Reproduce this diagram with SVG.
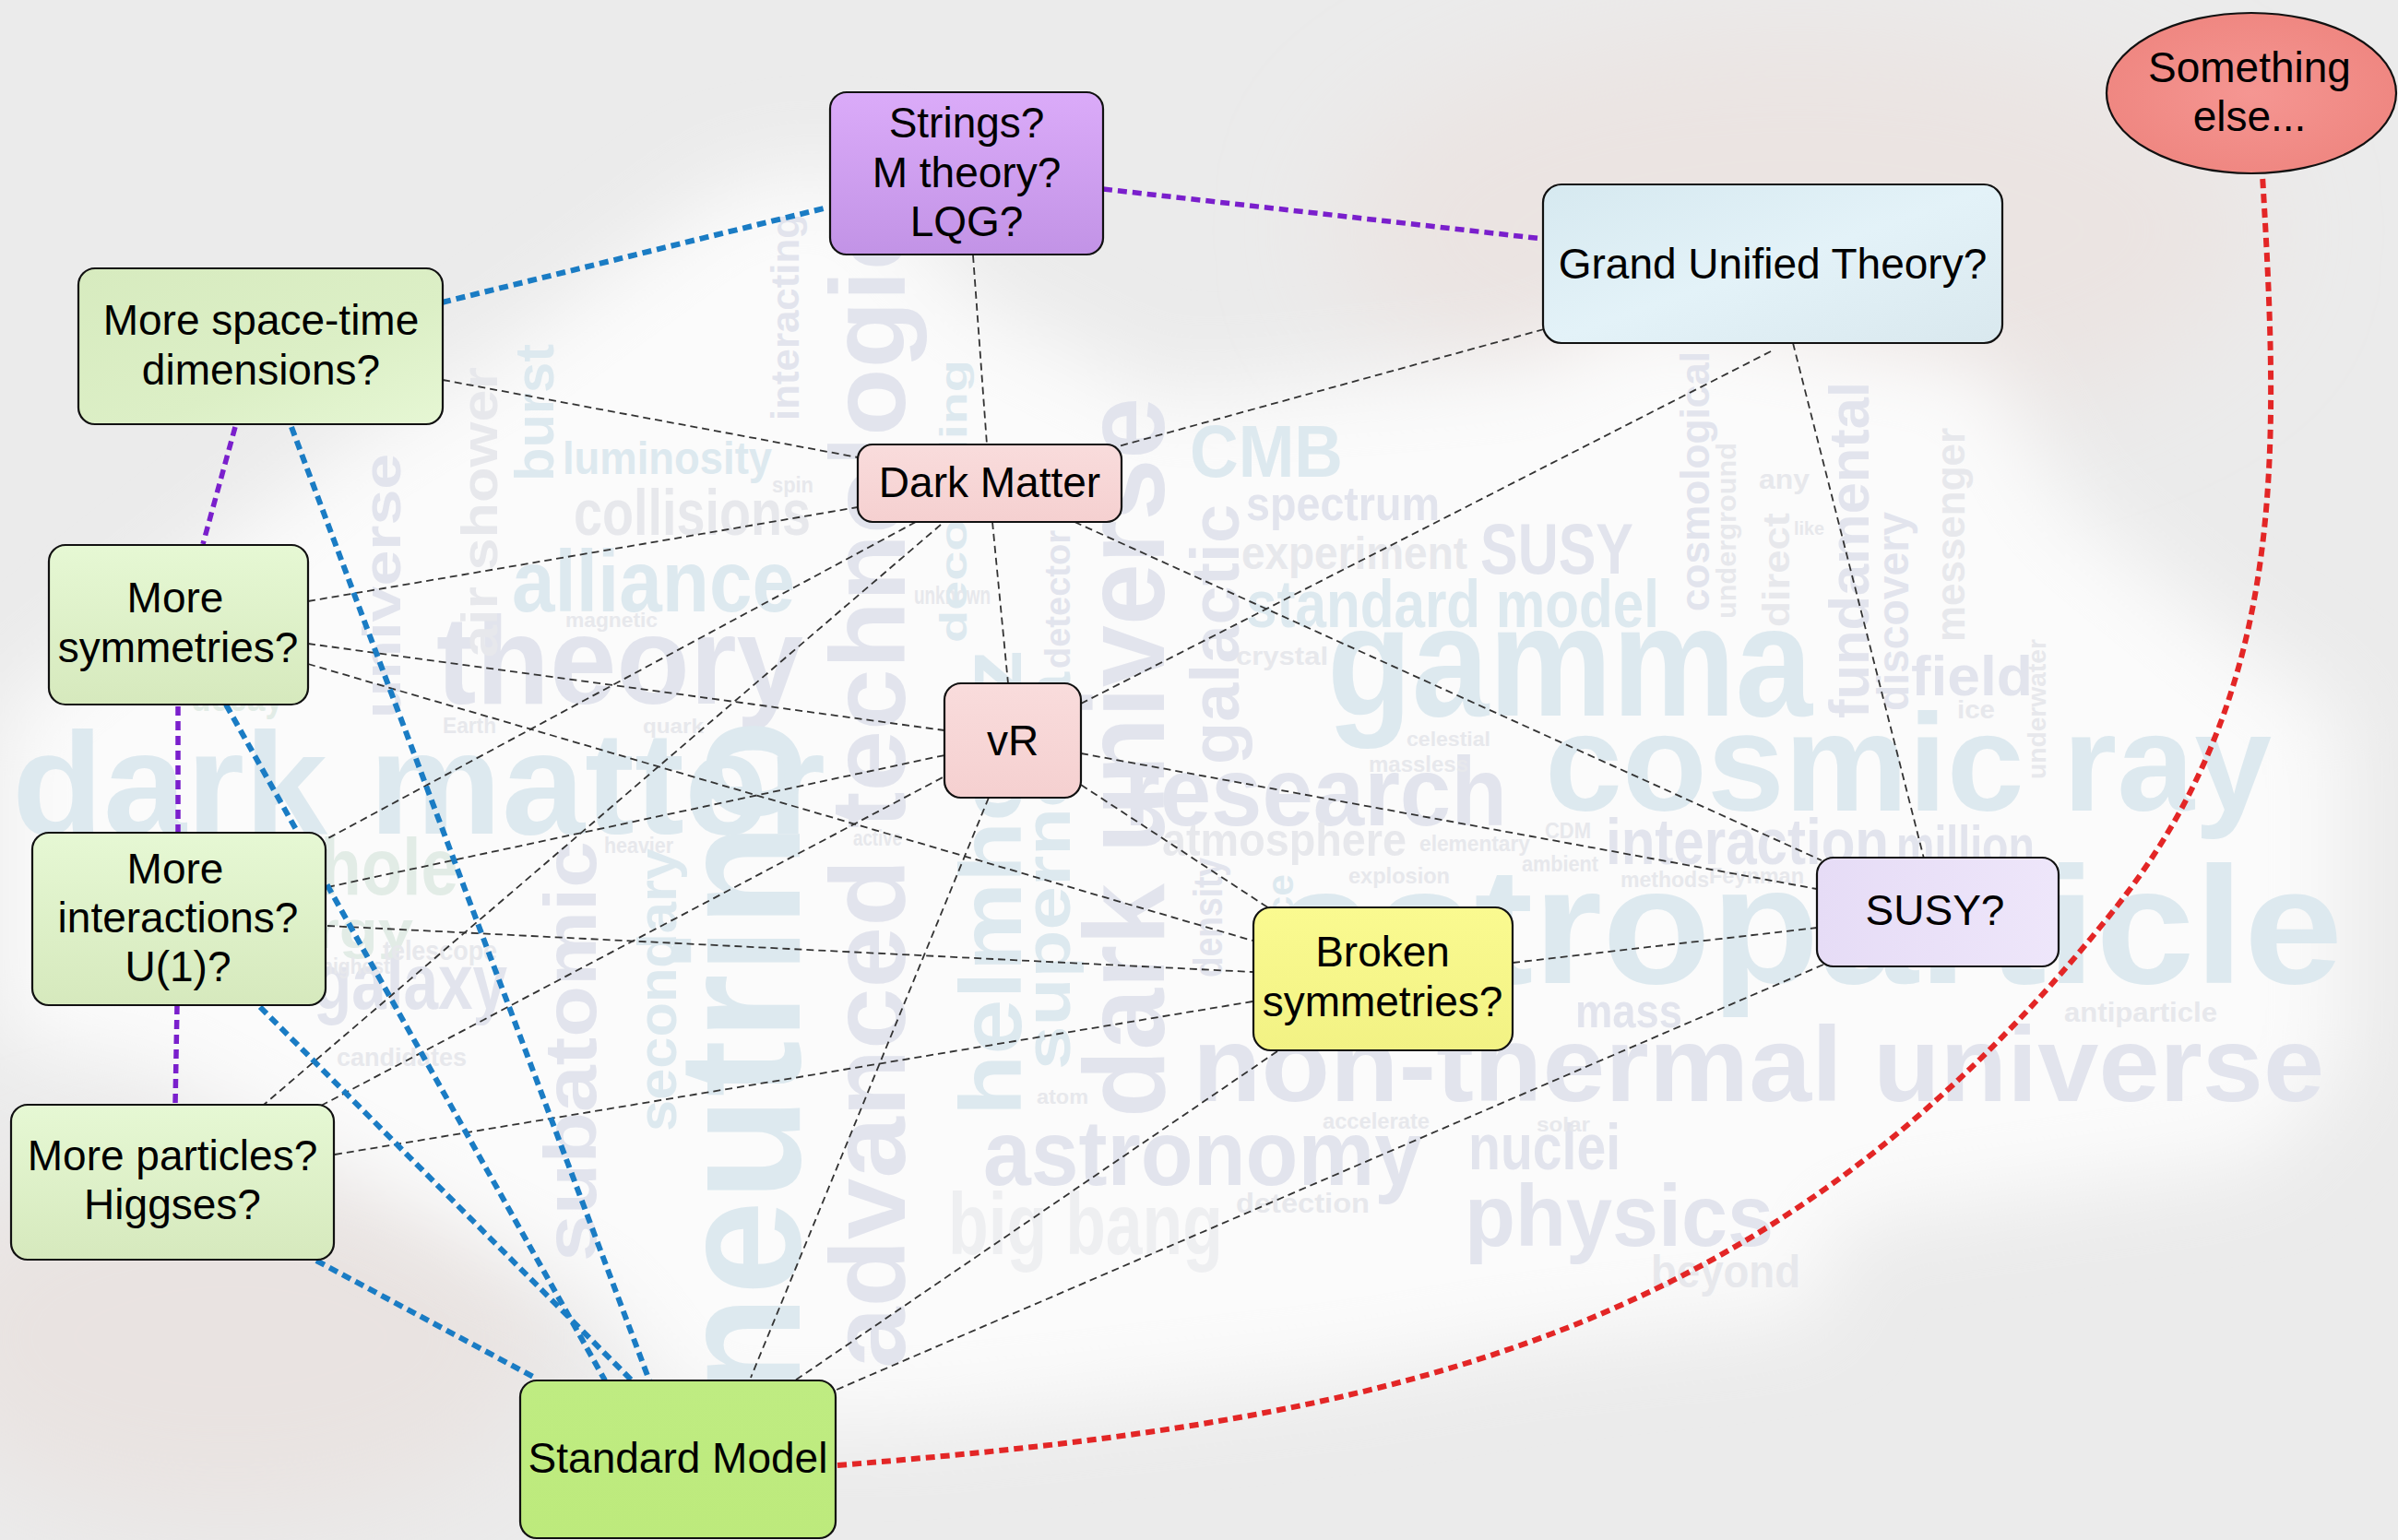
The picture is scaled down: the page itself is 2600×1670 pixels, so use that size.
<svg xmlns="http://www.w3.org/2000/svg" width="2600" height="1670" viewBox="0 0 2600 1670">
<defs>
<style>
.lbl{font-family:"Liberation Sans",Arial,sans-serif;font-size:46px;fill:#000;text-anchor:middle}
.box{stroke:#111;stroke-width:2.2}
.thin{fill:none;stroke:#333;stroke-width:1.8;stroke-dasharray:8 5}
.blue{fill:none;stroke:#1a7cc4;stroke-width:6;stroke-dasharray:10 6}
.purple{fill:none;stroke:#7a1fcc;stroke-width:5.5;stroke-dasharray:10 6}
.red{fill:none;stroke:#e32626;stroke-width:6;stroke-dasharray:10 6}
.wc{font-family:"Liberation Sans",Arial,sans-serif;font-weight:bold}
.wb{fill:#dde9ef}
.wg{fill:#e2e4ed}
.wl{fill:#e7e8ec}
.wn{fill:#e2ece6}
</style>
<filter id="blur" x="-20%" y="-20%" width="140%" height="140%"><feGaussianBlur stdDeviation="45"/></filter>
<filter id="blur2" x="-50%" y="-50%" width="200%" height="200%"><feGaussianBlur stdDeviation="60"/></filter>
<linearGradient id="gPurple" x1="0" y1="0" x2="0" y2="1"><stop offset="0" stop-color="#dbabf9"/><stop offset="1" stop-color="#c293e6"/></linearGradient>
<linearGradient id="gBlue" x1="0" y1="0" x2="1" y2="1"><stop offset="0" stop-color="#d6e9f0"/><stop offset="0.5" stop-color="#e3f2f8"/><stop offset="1" stop-color="#d9e8ee"/></linearGradient>
<radialGradient id="gRed" cx="0.5" cy="0.5" r="0.6"><stop offset="0" stop-color="#f59692"/><stop offset="1" stop-color="#ee847e"/></radialGradient>
<linearGradient id="gGreen" x1="0" y1="0" x2="1" y2="1"><stop offset="0" stop-color="#d7ebbf"/><stop offset="0.6" stop-color="#dcefc6"/><stop offset="1" stop-color="#e6f7d4"/></linearGradient>
<linearGradient id="gGreen2" x1="0" y1="0" x2="0" y2="1"><stop offset="0" stop-color="#e6f8d4"/><stop offset="1" stop-color="#d6e9bd"/></linearGradient>
<linearGradient id="gPink" x1="0" y1="0" x2="0" y2="1"><stop offset="0" stop-color="#f9dcdc"/><stop offset="1" stop-color="#f5d0d0"/></linearGradient>
<linearGradient id="gSM" x1="0" y1="0" x2="0" y2="1"><stop offset="0" stop-color="#bfec82"/><stop offset="1" stop-color="#bdea7c"/></linearGradient>
<linearGradient id="gYellow" x1="0" y1="0" x2="0" y2="1"><stop offset="0" stop-color="#fafa90"/><stop offset="1" stop-color="#f2f284"/></linearGradient>
<linearGradient id="gSusy" x1="0" y1="0" x2="1" y2="0"><stop offset="0" stop-color="#e6dcf6"/><stop offset="1" stop-color="#eee6fa"/></linearGradient>
</defs>

<g id="background">
<rect x="0" y="0" width="2600" height="1670" fill="#ebebeb"/>
<ellipse cx="1950" cy="250" rx="500" ry="220" fill="#ebe4e2" filter="url(#blur2)"/>
<ellipse cx="250" cy="1450" rx="350" ry="200" fill="#e9e3e1" filter="url(#blur2)"/>
<path d="M0,780 L380,480 L547,381 L796,199 L928,182 L1061,332 L1260,431 L1658,398 L1791,332 L2155,398 L2238,547 L2421,696 L2540,779 L2540,1160 L2454,1260 L1990,1326 L1973,1426 L1658,1459 L1459,1492 L995,1542 L746,1542 L647,1409 L415,1293 L166,1160 L0,1127 Z" fill="#fbfbfb" filter="url(#blur)"/>
</g>

<g id="wordcloud" class="wc">
<text class="wb" x="13" y="904" font-size="158" textLength="882" lengthAdjust="spacingAndGlyphs">dark matter</text>
<text class="wb" x="1675" y="879" font-size="150" textLength="788" lengthAdjust="spacingAndGlyphs">cosmic ray</text>
<text class="wb" x="1384" y="1066" font-size="180" textLength="1156" lengthAdjust="spacingAndGlyphs">astroparticle</text>
<text class="wb" x="1439" y="776" font-size="170" textLength="526" lengthAdjust="spacingAndGlyphs">gamma</text>
<text class="wg" x="1293" y="1194" font-size="115" textLength="705" lengthAdjust="spacingAndGlyphs">non-thermal</text>
<text class="wg" x="2031" y="1194" font-size="115" textLength="489" lengthAdjust="spacingAndGlyphs">universe</text>
<text class="wg" x="1066" y="1285" font-size="100" textLength="476" lengthAdjust="spacingAndGlyphs">astronomy</text>
<text class="wg" x="1588" y="1351" font-size="95" textLength="335" lengthAdjust="spacingAndGlyphs">physics</text>
<text class="wg" x="1592" y="1268" font-size="70" textLength="165" lengthAdjust="spacingAndGlyphs">nuclei</text>
<text class="wg" x="473" y="763" font-size="135" textLength="398" lengthAdjust="spacingAndGlyphs">theory</text>
<text class="wb" x="555" y="663" font-size="95" textLength="307" lengthAdjust="spacingAndGlyphs">alliance</text>
<text class="wl" x="622" y="580" font-size="70" textLength="257" lengthAdjust="spacingAndGlyphs">collisions</text>
<text class="wb" x="610" y="514" font-size="50" textLength="227" lengthAdjust="spacingAndGlyphs">luminosity</text>
<text class="wg" x="1219" y="895" font-size="105" textLength="415" lengthAdjust="spacingAndGlyphs">research</text>
<text class="wg" x="1741" y="937" font-size="70" textLength="307" lengthAdjust="spacingAndGlyphs">interaction</text>
<text class="wg" x="2056" y="937" font-size="60" textLength="150" lengthAdjust="spacingAndGlyphs">million</text>
<text class="wb" x="1351" y="680" font-size="72" textLength="448" lengthAdjust="spacingAndGlyphs">standard model</text>
<text class="wl" x="1346" y="617" font-size="50" textLength="245" lengthAdjust="spacingAndGlyphs">experiment</text>
<text class="wg" x="1605" y="622" font-size="78" textLength="166" lengthAdjust="spacingAndGlyphs">SUSY</text>
<text class="wg" x="1351" y="564" font-size="52" textLength="210" lengthAdjust="spacingAndGlyphs">spectrum</text>
<text class="wb" x="1290" y="517" font-size="80" textLength="166" lengthAdjust="spacingAndGlyphs">CMB</text>
<text class="wg" x="2072" y="754" font-size="62" textLength="132" lengthAdjust="spacingAndGlyphs">field</text>
<text class="wg" x="1708" y="1114" font-size="52" textLength="116" lengthAdjust="spacingAndGlyphs">mass</text>
<text class="wl" x="1028" y="1360" font-size="95" textLength="298" lengthAdjust="spacingAndGlyphs" opacity="0.6">big bang</text>
<text class="wl" x="1790" y="1396" font-size="50" textLength="162" lengthAdjust="spacingAndGlyphs">beyond</text>
<text class="wg" x="340" y="1094" font-size="85" textLength="210" lengthAdjust="spacingAndGlyphs">galaxy</text>
<text class="wn" x="141" y="970" font-size="88" textLength="356" lengthAdjust="spacingAndGlyphs">black hole</text>
<text class="wn" x="58" y="1028" font-size="58" textLength="390" lengthAdjust="spacingAndGlyphs">high energy</text>
<text class="wn" x="207" y="771" font-size="45" textLength="100" lengthAdjust="spacingAndGlyphs">decay</text>
<text class="wl" x="1260" y="928" font-size="50" textLength="265" lengthAdjust="spacingAndGlyphs">atmosphere</text>
<text class="wl" x="2238" y="1108" font-size="30" textLength="166" lengthAdjust="spacingAndGlyphs">antiparticle</text>
<text class="wl" x="1340" y="1315" font-size="30" textLength="145" lengthAdjust="spacingAndGlyphs">detection</text>
<text class="wl" x="1434" y="1224" font-size="24" textLength="116" lengthAdjust="spacingAndGlyphs">accelerate</text>
<text class="wl" x="1462" y="958" font-size="24" textLength="110" lengthAdjust="spacingAndGlyphs">explosion</text>
<text class="wl" x="1539" y="923" font-size="24" textLength="120" lengthAdjust="spacingAndGlyphs">elementary</text>
<text class="wl" x="1757" y="962" font-size="24" textLength="96" lengthAdjust="spacingAndGlyphs">methods</text>
<text class="wl" x="1650" y="945" font-size="24" textLength="83" lengthAdjust="spacingAndGlyphs">ambient</text>
<text class="wl" x="1853" y="958" font-size="24" textLength="103" lengthAdjust="spacingAndGlyphs">Feynman</text>
<text class="wl" x="2073" y="953" font-size="30" textLength="83" lengthAdjust="spacingAndGlyphs">space</text>
<text class="wl" x="837" y="534" font-size="24" textLength="45" lengthAdjust="spacingAndGlyphs">spin</text>
<text class="wl" x="613" y="680" font-size="22" textLength="100" lengthAdjust="spacingAndGlyphs">magnetic</text>
<text class="wl" x="991" y="655" font-size="28" textLength="83" lengthAdjust="spacingAndGlyphs">unknown</text>
<text class="wl" x="1340" y="721" font-size="28" textLength="100" lengthAdjust="spacingAndGlyphs">crystal</text>
<text class="wl" x="1525" y="809" font-size="22" textLength="91" lengthAdjust="spacingAndGlyphs">celestial</text>
<text class="wl" x="1484" y="837" font-size="24" textLength="108" lengthAdjust="spacingAndGlyphs">massless</text>
<text class="wl" x="655" y="925" font-size="24" textLength="75" lengthAdjust="spacingAndGlyphs">heavier</text>
<text class="wl" x="365" y="1156" font-size="28" textLength="141" lengthAdjust="spacingAndGlyphs">candidates</text>
<text class="wl" x="415" y="1041" font-size="30" textLength="124" lengthAdjust="spacingAndGlyphs">telescope</text>
<text class="wl" x="348" y="1056" font-size="24" textLength="75" lengthAdjust="spacingAndGlyphs">highest</text>
<text class="wl" x="1124" y="1197" font-size="22" textLength="56" lengthAdjust="spacingAndGlyphs">atom</text>
<text class="wl" x="1666" y="1227" font-size="22" textLength="58" lengthAdjust="spacingAndGlyphs">solar</text>
<text class="wl" x="2122" y="779" font-size="28" textLength="41" lengthAdjust="spacingAndGlyphs">ice</text>
<text class="wl" x="1907" y="530" font-size="30" textLength="55" lengthAdjust="spacingAndGlyphs">any</text>
<text class="wl" x="1945" y="580" font-size="20" textLength="33" lengthAdjust="spacingAndGlyphs">like</text>
<text class="wl" x="480" y="795" font-size="24" textLength="58" lengthAdjust="spacingAndGlyphs">Earth</text>
<text class="wl" x="697" y="795" font-size="22" textLength="66" lengthAdjust="spacingAndGlyphs">quark</text>
<text class="wl" x="925" y="917" font-size="24" textLength="53" lengthAdjust="spacingAndGlyphs">active</text>
<text class="wl" x="1675" y="909" font-size="24" textLength="50" lengthAdjust="spacingAndGlyphs">CDM</text>
<text class="wb" transform="translate(867,1517) rotate(-90)" font-size="190" textLength="737" lengthAdjust="spacingAndGlyphs">neutrino</text>
<text class="wg" transform="translate(981,1484) rotate(-90)" font-size="115" textLength="1324" lengthAdjust="spacingAndGlyphs">advanced technologies</text>
<text class="wg" transform="translate(1262,1212) rotate(-90)" font-size="125" textLength="781" lengthAdjust="spacingAndGlyphs">dark universe</text>
<text class="wb" transform="translate(1107,1210) rotate(-90)" font-size="95" textLength="506" lengthAdjust="spacingAndGlyphs">helmholtz</text>
<text class="wb" transform="translate(1160,1160) rotate(-90)" font-size="70" textLength="431" lengthAdjust="spacingAndGlyphs">supernova</text>
<text class="wg" transform="translate(646,1368) rotate(-90)" font-size="80" textLength="456" lengthAdjust="spacingAndGlyphs">subatomic</text>
<text class="wb" transform="translate(733,1227) rotate(-90)" font-size="60" textLength="307" lengthAdjust="spacingAndGlyphs">secondary</text>
<text class="wg" transform="translate(434,779) rotate(-90)" font-size="58" textLength="287" lengthAdjust="spacingAndGlyphs">universe</text>
<text class="wb" transform="translate(600,522) rotate(-90)" font-size="60" textLength="149" lengthAdjust="spacingAndGlyphs">burst</text>
<text class="wl" transform="translate(539,713) rotate(-90)" font-size="55" textLength="315" lengthAdjust="spacingAndGlyphs">air shower</text>
<text class="wg" transform="translate(2026,779) rotate(-90)" font-size="62" textLength="365" lengthAdjust="spacingAndGlyphs">fundamental</text>
<text class="wg" transform="translate(2069,771) rotate(-90)" font-size="48" textLength="216" lengthAdjust="spacingAndGlyphs">discovery</text>
<text class="wl" transform="translate(2130,696) rotate(-90)" font-size="44" textLength="232" lengthAdjust="spacingAndGlyphs">messenger</text>
<text class="wg" transform="translate(1853,663) rotate(-90)" font-size="44" textLength="282" lengthAdjust="spacingAndGlyphs">cosmological</text>
<text class="wl" transform="translate(1882,671) rotate(-90)" font-size="30" textLength="191" lengthAdjust="spacingAndGlyphs">underground</text>
<text class="wl" transform="translate(1940,680) rotate(-90)" font-size="40" textLength="124" lengthAdjust="spacingAndGlyphs">direct</text>
<text class="wg" transform="translate(1343,829) rotate(-90)" font-size="75" textLength="282" lengthAdjust="spacingAndGlyphs">galactic</text>
<text class="wg" transform="translate(866,456) rotate(-90)" font-size="42" textLength="224" lengthAdjust="spacingAndGlyphs">interacting</text>
<text class="wg" transform="translate(1160,725) rotate(-90)" font-size="38" textLength="150" lengthAdjust="spacingAndGlyphs">detector</text>
<text class="wb" transform="translate(1048,697) rotate(-90)" font-size="40" textLength="307" lengthAdjust="spacingAndGlyphs">decoupling</text>
<text class="wl" transform="translate(2218,845) rotate(-90)" font-size="28" textLength="152" lengthAdjust="spacingAndGlyphs">underwater</text>
<text class="wb" transform="translate(1402,1088) rotate(-90)" font-size="40" textLength="140" lengthAdjust="spacingAndGlyphs">source</text>
<text class="wg" transform="translate(1325,1060) rotate(-90)" font-size="44" textLength="130" lengthAdjust="spacingAndGlyphs">density</text>
</g>

<g id="connectors">
<line class="thin" x1="1055" y1="277" x2="1070" y2="482"/>
<line class="thin" x1="480" y1="412" x2="930" y2="496"/>
<line class="thin" x1="1674" y1="357" x2="1209" y2="485"/>
<line class="thin" x1="1920" y1="381" x2="1172" y2="763"/>
<line class="thin" x1="1944" y1="372" x2="2086" y2="931"/>
<line class="thin" x1="334" y1="652" x2="930" y2="550"/>
<line class="thin" x1="1076" y1="566" x2="1093" y2="741"/>
<line class="thin" x1="993" y1="566" x2="352" y2="911"/>
<line class="thin" x1="1020" y1="569" x2="286" y2="1198"/>
<line class="thin" x1="1165" y1="566" x2="1975" y2="933"/>
<line class="thin" x1="334" y1="698" x2="1024" y2="792"/>
<line class="thin" x1="334" y1="720" x2="1358" y2="1020"/>
<line class="thin" x1="355" y1="962" x2="1024" y2="819"/>
<line class="thin" x1="355" y1="1004" x2="1358" y2="1054"/>
<line class="thin" x1="348" y1="1199" x2="1024" y2="842"/>
<line class="thin" x1="363" y1="1252" x2="1358" y2="1086"/>
<line class="thin" x1="1172" y1="817" x2="1970" y2="964"/>
<line class="thin" x1="1172" y1="851" x2="1376" y2="985"/>
<line class="thin" x1="1072" y1="865" x2="814" y2="1494"/>
<line class="thin" x1="1640" y1="1044" x2="1970" y2="1006"/>
<line class="thin" x1="1385" y1="1140" x2="862" y2="1497"/>
<line class="thin" x1="1977" y1="1046" x2="907" y2="1507"/>
<line class="blue" x1="479" y1="328" x2="897" y2="225"/>
<line class="blue" x1="316" y1="463" x2="704" y2="1497"/>
<line class="blue" x1="245" y1="764" x2="656" y2="1497"/>
<line class="blue" x1="282" y1="1092" x2="685" y2="1497"/>
<line class="blue" x1="343" y1="1367" x2="580" y2="1494"/>
<line class="purple" x1="1196" y1="205" x2="1673" y2="259"/>
<line class="purple" x1="255" y1="463" x2="220" y2="590"/>
<line class="purple" x1="193" y1="766" x2="193" y2="903"/>
<line class="purple" x1="192" y1="1090" x2="190" y2="1198"/>
<path class="red" d="M908,1589 C1508,1541 1923,1454 2295,983 C2481,747 2471,490 2453,190"/>
</g>

<g id="nodes">
<g id="strings"><rect class="box" x="900" y="100" width="296" height="176" rx="18" fill="url(#gPurple)"/>
<text class="lbl" x="1048" y="149">Strings?</text><text class="lbl" x="1048" y="203">M theory?</text><text class="lbl" x="1048" y="256">LQG?</text></g>
<g id="gut"><rect class="box" x="1673" y="200" width="498" height="172" rx="20" fill="url(#gBlue)"/>
<text class="lbl" x="1922" y="302">Grand Unified Theory?</text></g>
<g id="something-else"><ellipse class="box" cx="2441" cy="101" rx="157" ry="87" fill="url(#gRed)"/>
<text class="lbl" x="2439" y="89">Something</text><text class="lbl" x="2439" y="142">else...</text></g>
<g id="spacetime"><rect class="box" x="85" y="291" width="395" height="169" rx="18" fill="url(#gGreen)"/>
<text class="lbl" x="283" y="363">More space-time</text><text class="lbl" x="283" y="417">dimensions?</text></g>
<g id="dark-matter"><rect class="box" x="930" y="482" width="286" height="84" rx="16" fill="url(#gPink)"/>
<text class="lbl" x="1073" y="539">Dark Matter</text></g>
<g id="symmetries"><rect class="box" x="53" y="591" width="281" height="173" rx="18" fill="url(#gGreen2)"/>
<text class="lbl" x="190" y="664">More</text><text class="lbl" x="193" y="718">symmetries?</text></g>
<g id="nuR"><rect class="box" x="1024" y="741" width="148" height="124" rx="18" fill="url(#gPink)"/>
<text class="lbl" x="1098" y="819">vR</text></g>
<g id="interactions"><rect class="box" x="35" y="903" width="318" height="187" rx="18" fill="url(#gGreen2)"/>
<text class="lbl" x="190" y="958">More</text><text class="lbl" x="193" y="1011">interactions?</text><text class="lbl" x="193" y="1064">U(1)?</text></g>
<g id="particles"><rect class="box" x="12" y="1198" width="350" height="168" rx="18" fill="url(#gGreen2)"/>
<text class="lbl" x="187" y="1269">More particles?</text><text class="lbl" x="187" y="1322">Higgses?</text></g>
<g id="standard-model"><rect class="box" x="564" y="1497" width="342" height="171" rx="18" fill="url(#gSM)"/>
<text class="lbl" x="735" y="1597">Standard Model</text></g>
<g id="broken"><rect class="box" x="1359" y="984" width="281" height="155" rx="19" fill="url(#gYellow)"/>
<text class="lbl" x="1499" y="1048">Broken</text><text class="lbl" x="1499" y="1102">symmetries?</text></g>
<g id="susy"><rect class="box" x="1970" y="930" width="262" height="118" rx="18" fill="url(#gSusy)"/>
<text class="lbl" x="2098" y="1003">SUSY?</text></g>
</g>
</svg>
